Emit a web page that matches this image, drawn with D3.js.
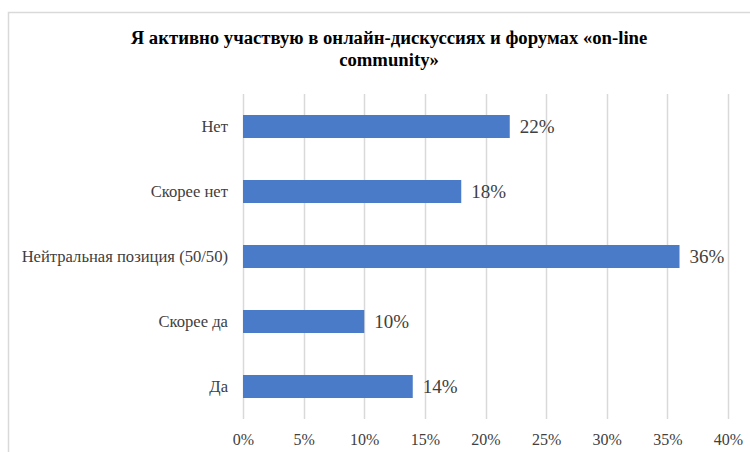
<!DOCTYPE html>
<html><head><meta charset="utf-8">
<script src="https://cdn.jsdelivr.net/npm/d3@7"></script>
<style>body{margin:0;background:#fff;} svg{display:block;} text{font-family:"Liberation Serif","Times New Roman",serif;}</style>
</head><body>
<svg id="c" width="750" height="452"></svg>
<script>
const categories = ["Нет", "Скорее нет", "Нейтральная позиция (50/50)", "Скорее да", "Да"];
const values = [0.22, 0.18, 0.36, 0.10, 0.14];
const ticks = [0, 0.05, 0.10, 0.15, 0.20, 0.25, 0.30, 0.35, 0.40];
const titleLines = ["Я активно участвую в онлайн-дискуссиях и форумах «on-line", "community»"];

const svg = d3.select("#c");
const serif = '"Liberation Serif", "Times New Roman", serif';

// chart border
svg.append("rect").attr("x", 8.5).attr("y", 12.5).attr("width", 760).attr("height", 460)
  .attr("fill", "none").attr("stroke", "#d9d9d9").attr("stroke-width", 1.5);

const x = d3.scaleLinear().domain([0, 0.40]).range([243, 728]);
const y = d3.scaleBand().domain(categories).range([94, 419]).paddingInner(0.646).paddingOuter(0.323);

// title
svg.append("g").selectAll("text").data(titleLines).join("text")
  .attr("x", 389).attr("y", (d, i) => 44 + i * 22)
  .attr("text-anchor", "middle").style("font-family", serif).style("font-weight", "bold")
  .style("font-size", "18.7px").attr("fill", "#000").text(d => d);

// gridlines
svg.append("g").selectAll("line").data(ticks).join("line")
  .attr("x1", d => Math.round(x(d)) + 0.5).attr("x2", d => Math.round(x(d)) + 0.5)
  .attr("y1", 94).attr("y2", 419).attr("stroke", "#d9d9d9").attr("stroke-width", 1.5);

// x axis labels
const xa = svg.append("g").attr("transform", "translate(0,419)")
  .call(d3.axisBottom(x).tickValues(ticks).tickFormat(d3.format(".0%")).tickSize(0).tickPadding(15));
xa.select(".domain").remove();
xa.attr("font-family", null).attr("font-size", null);
xa.selectAll("text").style("font-family", serif).style("font-size", "16px").attr("fill", "#404040");

// y axis labels
const ya = svg.append("g").attr("transform", "translate(243,0)")
  .call(d3.axisLeft(y).tickSize(0).tickPadding(15));
ya.select(".domain").remove();
ya.attr("font-family", null).attr("font-size", null);
ya.selectAll("text").style("font-family", serif).style("font-size", "16.6px").attr("fill", "#404040");

// bars
svg.append("g").selectAll("rect").data(values).join("rect")
  .attr("x", x(0)).attr("y", (d, i) => y(categories[i]))
  .attr("width", d => x(d) - x(0)).attr("height", y.bandwidth())
  .attr("fill", "#4a7bc8");

// value labels
svg.append("g").selectAll("text").data(values).join("text")
  .attr("x", d => x(d) + 10).attr("y", (d, i) => y(categories[i]) + y.bandwidth() / 2)
  .attr("dy", "0.35em").style("font-family", serif).style("font-size", "19px")
  .attr("fill", "#404040").text(d => d3.format(".0%")(d));
</script>
</body></html>
